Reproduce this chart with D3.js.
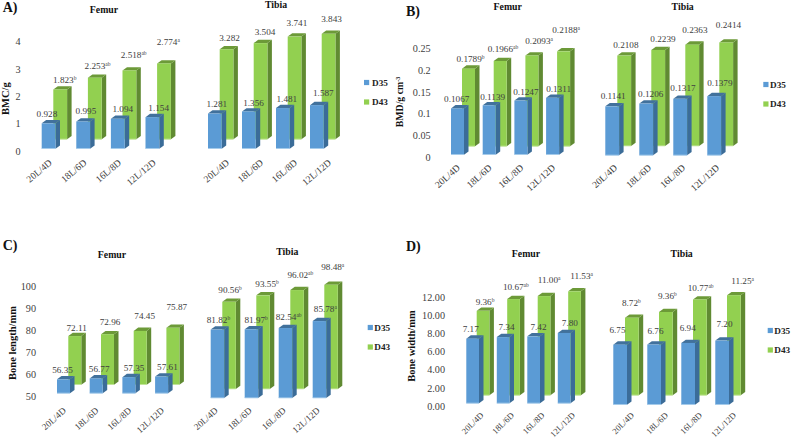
<!DOCTYPE html>
<html><head><meta charset="utf-8">
<script src="https://cdn.jsdelivr.net/npm/d3@7/dist/d3.min.js"></script>
<style>html,body{margin:0;padding:0;background:#fff}svg{display:block}text{font-family:"Liberation Serif","Times New Roman",serif}</style>
</head><body><svg id="c" width="791" height="439"></svg>
<script>
// ---- data ----
const seriesNames = ["D35","D43"];
const categories = ["20L/4D","18L/6D","16L/8D","12L/12D"];

const bmcFemurD35 = [0.928,0.995,1.094,1.154];
const bmcFemurD43 = [1.823,2.253,2.518,2.774];
const bmcFemurSup = ["b","ab","ab","a"];
const bmcTibiaD35 = [1.281,1.356,1.481,1.587];
const bmcTibiaD43 = [3.282,3.504,3.741,3.843];
const bmcTicks = [0,1,2,3,4];

const bmdFemurD35 = [0.1067,0.1139,0.1247,0.1311];
const bmdFemurD43 = [0.1789,0.1966,0.2093,0.2188];
const bmdFemurSup = ["b","ab","a","a"];
const bmdTibiaD35 = [0.1141,0.1206,0.1317,0.1379];
const bmdTibiaD43 = [0.2108,0.2239,0.2363,0.2414];
const bmdTicks = [0,0.05,0.1,0.15,0.2,0.25];

const lenFemurD35 = [56.35,56.77,57.35,57.61];
const lenFemurD43 = [72.11,72.96,74.45,75.87];
const lenTibiaD35 = [81.82,81.97,82.54,85.78];
const lenTibiaD35Sup = ["b","b","ab","a"];
const lenTibiaD43 = [90.56,93.55,96.02,98.48];
const lenTibiaD43Sup = ["b","b","ab","a"];
const lenTicks = [50,60,70,80,90,100];

const widFemurD35 = [7.17,7.34,7.42,7.80];
const widFemurD43 = [9.36,10.67,11.00,11.53];
const widFemurSup = ["b","ab","a","a"];
const widTibiaD35 = [6.75,6.76,6.94,7.20];
const widTibiaD43 = [8.72,9.36,10.77,11.25];
const widTibiaSup = ["b","b","ab","a"];
const widTicks = [0,2,4,6,8,10,12];
const none = ["","","",""];

// ---- layout (pixels, kept apart from the data) ----
const panels = [
 {letter:"A)",lx:2.7,ly:11.7,perUnit:27.35,fmt:".3f",tickFmt:"d",ticks:bmcTicks,catSize:9.6,catAngle:-40,
  axis:{x:20.5,y0:151},ytitle:{text:"BMC/g",x:8.5,y:98.7},
  legend:{x:364,tx:372,y:[82.5,102]},
  subs:[
   {name:"Femur",tx:104,ty:13.3,x0:41.7,step:34.6,w:13.8,gx:11.6,bBase:148.7,gBase:139.3,pu:27.35,catOff:1,catY:160,
    d35:bmcFemurD35,d43:bmcFemurD43,s35:none,s43:bmcFemurSup,
    ldx35:[-1.7,2.7,5,6.3],ldy35:[-6,-7,-6.7,-5.7],ldx43:[4.5,2.7,4.3,4.3],ldy43:[-6.7,-8.7,-12.3,-18.3]},
   {name:"Tibia",tx:276,ty:8,x0:208,step:34,w:13.7,gx:11.7,bBase:148.7,gBase:139.3,pu:27.45,catOff:12,catY:160,
    d35:bmcTibiaD35,d43:bmcTibiaD43,s35:none,s43:none,
    ldx35:[1.9,4.7,4,6.5],ldy35:[-6.7,-5.7,-6.3,-9],ldx43:[3,4.5,2.4,3],ldy43:[-8,-8.3,-11,-12.3]}]},
 {letter:"B)",lx:406,ly:15.7,perUnit:436,fmt:".4f",tickFmt:"",ticks:bmdTicks,catSize:9.6,catAngle:-42,
  axis:{x:430.7,y0:157.3},ytitle:{text:"BMD/g cm",sup:"-3",x:403,y:102},ytSize:9.8,
  legend:{x:763.3,tx:770,y:[84.5,104]},
  subs:[
   {name:"Femur",tx:507.7,ty:10,x0:451,step:31.7,w:13,gx:11,bBase:154.7,gBase:146.3,pu:434,catOff:0,catY:165,
    d35:bmdFemurD35,d43:bmdFemurD43,s35:none,s43:bmdFemurSup,
    ldx35:[-0.8,3.5,5,6],ldy35:[-6.7,-5.7,-5.7,-6.3],ldx43:[2,2.8,7.2,2.5],ldy43:[-6.3,-9.3,-11.7,-18.7]},
   {name:"Tibia",tx:682.7,ty:10,x0:605.3,step:34,w:13.8,gx:12,bBase:155.3,gBase:146,pu:429,catOff:2.5,catY:165,
    d35:bmdTibiaD35,d43:bmdTibiaD43,s35:none,s43:none,
    ldx35:[1,4.5,2.8,5.7],ldy35:[-7.7,-6.3,-7.7,-9.7],ldx43:[1.7,4.8,2.7,2.3],ldy43:[-8,-8.3,-11.3,-14.7]}]},
 {letter:"C)",lx:2.7,ly:250,perUnit:2.2,fmt:".2f",tickFmt:"d",ticks:lenTicks,catSize:9.2,catAngle:-42,
  axis:{x:36,y0:396.7},ytitle:{text:"Bone length/mm",x:15.5,y:343},
  legend:{x:367.7,tx:374.3,y:[327.5,347]},
  subs:[
   {name:"Femur",tx:112,ty:258.3,x0:57,step:32.7,w:13,gx:11.3,bBase:393.3,gBase:384.7,pu:2.2,catOff:0,catY:408,min:50,
    d35:lenFemurD35,d43:lenFemurD43,s35:none,s43:none,
    ldx35:[-1,3,5.2,5.8],ldy35:[-6,-6.3,-5.7,-7],ldx43:[1.9,2.5,4.5,3.9],ldy43:[-5.3,-8.7,-12,-18]},
   {name:"Tibia",tx:287.3,ty:255,x0:210.7,step:34,w:13.5,gx:11.6,bBase:398,gBase:389,pu:2.15,catOff:-2,catY:408,min:50,
    d35:lenTibiaD35,d43:lenTibiaD43,s35:lenTibiaD35Sup,s43:lenTibiaD43Sup,
    ldx35:[1,4.7,3.2,5.9],ldy35:[-6.4,-6.4,-8,-8.7],ldx43:[1,4,3.3,1.7],ldy43:[-8.7,-8.7,-11.7,-15]}]},
 {letter:"D)",lx:406,ly:250.7,perUnit:9.08,fmt:".2f",tickFmt:".2f",ticks:widTicks,catSize:8.6,catAngle:-45,
  axis:{x:445,y0:406},ytitle:{text:"Bone width/mm",x:415,y:346},
  legend:{x:767.7,tx:774.3,y:[330.5,350]},
  subs:[
   {name:"Femur",tx:526,ty:257.3,x0:466.3,step:30.5,w:12.7,gx:10.4,bBase:403.3,gBase:395.3,pu:9.02,catOff:8.5,catY:412.7,
    d35:widFemurD35,d43:widFemurD43,s35:none,s43:widFemurSup,
    ldx35:[-1.9,3.3,4.8,5.7],ldy35:[-7,-7,-6,-7],ldx43:[2,2.3,5,7],ldy43:[-6.3,-9,-12.7,-12.3]},
   {name:"Tibia",tx:681.7,ty:257.3,x0:613.3,step:34,w:13.7,gx:11.7,bBase:404.7,gBase:395.3,pu:8.9,catOff:11.5,catY:412.7,
    d35:widTibiaD35,d43:widTibiaD43,s35:none,s43:widTibiaSup,
    ldx35:[-2.7,1.3,-0.4,2.3],ldy35:[-12,-10.4,-11.7,-13.6],ldx43:[-0.5,1.5,0.8,8.7],ldy43:[-12,-13,-8.7,-10.7]}]}
];
const depthX = 4.5, depthY = 3.3;
const colors = {
  D35:{front:"#5B9BD5",side:"#3B6C98",top:"#41719C",edge:"#A9CDEB"},
  D43:{front:"#92D050",side:"#608A32",top:"#6C9A38",edge:"#C4E59C"}
};
const textGrey = "#404040";

const svg = d3.select("#c");

function drawBars(g, sub, cats, x, values, series, base, xOff, fmt, sups, ldx, ldy){
  const min = sub.min || 0;
  const y = d3.scaleLinear().domain([min, min + 100]).range([base, base - 100 * sub.pu]);
  const c = colors[series];
  const w = x.bandwidth();
  const rows = values.map((v,i)=>({v,i,cat:cats[i]}));
  const bar = g.append("g").selectAll("g").data(rows).join("g");
  const L = d => x(d.cat) + xOff;
  // side and top faces, built from the same scales as the front
  bar.append("path").attr("fill",c.side).attr("d",d=>{
    const p=d3.path(),l=L(d)+w,t=y(d.v);
    p.moveTo(l,t);p.lineTo(l+depthX,t-depthY);p.lineTo(l+depthX,base-depthY);p.lineTo(l,base);p.closePath();return p;});
  bar.append("path").attr("fill",c.top).attr("d",d=>{
    const p=d3.path(),l=L(d),t=y(d.v);
    p.moveTo(l,t);p.lineTo(l+depthX,t-depthY);p.lineTo(l+w+depthX,t-depthY);p.lineTo(l+w,t);p.closePath();return p;});
  bar.append("rect").attr("fill",c.front)
    .attr("x",L).attr("y",d=>y(d.v)).attr("width",w).attr("height",d=>base-y(d.v));
  bar.append("rect").attr("fill",c.edge)
    .attr("x",L).attr("y",base-0.6).attr("width",w).attr("height",0.9);
  return rows.map(d=>({d,x:L(d)+w/2+ldx[d.i],y:y(d.v)+ldy[d.i],text:d3.format(fmt)(d.v),sup:sups[d.i]}));
}

panels.forEach(pn=>{
  const g = svg.append("g");
  g.append("text").text(pn.letter).attr("x",pn.lx).attr("y",pn.ly)
    .attr("font-size",14).attr("font-weight","bold").attr("fill","#111");

  // value axis
  const ext = d3.extent(pn.ticks);
  const ay = d3.scaleLinear().domain(ext).range([pn.axis.y0, pn.axis.y0-(ext[1]-ext[0])*pn.perUnit]);
  const fmt = pn.tickFmt ? d3.format(pn.tickFmt) : (d=>String(d));
  const ax = g.append("g").attr("transform",`translate(${pn.axis.x},0)`)
    .call(d3.axisLeft(ay).tickValues(pn.ticks).tickSize(0).tickPadding(0).tickFormat(fmt));
  ax.select(".domain").remove();
  ax.selectAll("text").attr("font-size",10.2).attr("fill",textGrey)
    .style("font-family",'"Liberation Serif",serif');

  // axis title
  const yt = g.append("text").attr("transform",`translate(${pn.ytitle.x},${pn.ytitle.y}) rotate(-90)`)
    .attr("text-anchor","middle").attr("font-size",pn.ytSize||10.5).attr("font-weight","bold").attr("fill","#111");
  yt.append("tspan").text(pn.ytitle.text);
  if(pn.ytitle.sup) yt.append("tspan").text(pn.ytitle.sup).attr("font-size",6).attr("dy",-3);

  // legend
  seriesNames.forEach((s,i)=>{
    g.append("rect").attr("x",pn.legend.x).attr("y",pn.legend.y[i]-2.6).attr("width",5.2).attr("height",5.2).attr("fill",colors[s].front);
    g.append("text").text(s).attr("x",pn.legend.tx).attr("y",pn.legend.y[i]+3)
      .attr("font-size",9.2).attr("font-weight","bold").attr("fill","#222");
  });

  pn.subs.forEach(sub=>{
    const sg = g.append("g");
    sg.append("text").text(sub.name).attr("x",sub.tx).attr("y",sub.ty).attr("text-anchor","middle")
      .attr("font-size",9.8).attr("font-weight","bold").attr("fill","#111");
    const cats = categories;
    const x = d3.scaleBand().domain(cats)
      .range([sub.x0, sub.x0 + 3*sub.step + sub.w])
      .paddingInner(1 - sub.w/sub.step).paddingOuter(0);
    const labels = [
      ...drawBars(sg, sub, cats, x, sub.d43, "D43", sub.gBase, sub.gx, pn.fmt, sub.s43, sub.ldx43, sub.ldy43),
      ...drawBars(sg, sub, cats, x, sub.d35, "D35", sub.bBase, 0, pn.fmt, sub.s35, sub.ldx35, sub.ldy35)
    ];
    labels.forEach(l=>{
      const t = sg.append("text").attr("x",l.x).attr("y",l.y).attr("text-anchor","middle")
        .attr("font-size",9.2).attr("fill",textGrey);
      t.append("tspan").text(l.text);
      if(l.sup) t.append("tspan").text(l.sup).attr("font-size",5.5).attr("dy",-3);
    });
    cats.forEach(cat=>{
      sg.append("text").text(cat)
        .attr("transform",`translate(${x(cat)+x.bandwidth()/2+sub.catOff},${sub.catY}) rotate(${pn.catAngle})`)
        .attr("text-anchor","end").attr("dy","0.5em").attr("font-size",pn.catSize).attr("fill",textGrey);
    });
  });
});
</script></body></html>
